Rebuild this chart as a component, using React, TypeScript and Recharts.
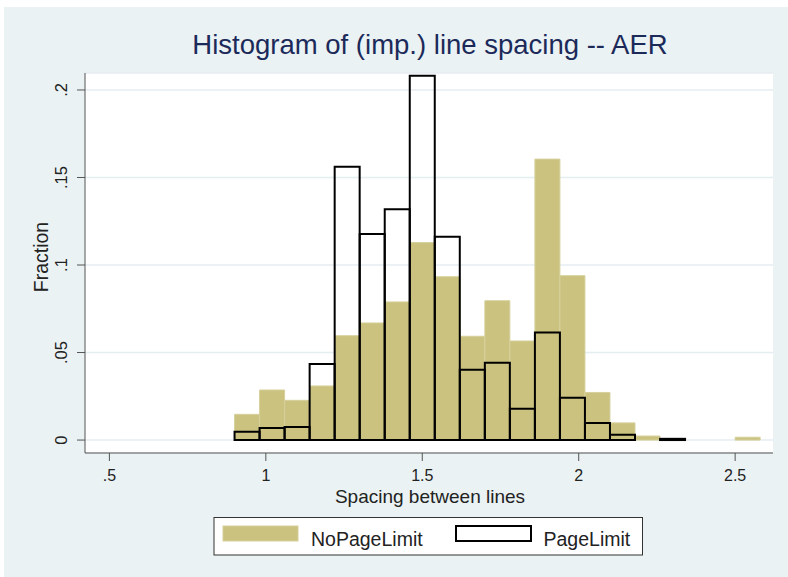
import { ComposedChart, Bar, XAxis, YAxis, CartesianGrid } from "recharts";

// bin midpoints (bin width .08, first bin starts at .9)
const binMids = [0.94, 1.02, 1.1, 1.18, 1.26, 1.34, 1.42, 1.5, 1.58, 1.66, 1.74, 1.82, 1.9, 1.98, 2.06, 2.14, 2.22, 2.3, 2.38, 2.46, 2.54];

const noPageLimit = [0.0147, 0.0286, 0.0227, 0.0309, 0.0596, 0.0669, 0.0789, 0.1128, 0.0933, 0.0593, 0.0796, 0.0566, 0.1605, 0.0939, 0.0272, 0.0098, 0.0023, 0, 0, 0, 0.0016];
const pageLimit = [0.0048, 0.0069, 0.0074, 0.0434, 0.1562, 0.1177, 0.1318, 0.2082, 0.1162, 0.0401, 0.0442, 0.0179, 0.0614, 0.0242, 0.0097, 0.003, 0, 0.0007, 0, 0, 0];

const xTicks = [0.5, 1, 1.5, 2, 2.5];
const yTicks = [0, 0.05, 0.1, 0.15, 0.2];

const data = binMids.map((bin, i) => ({ bin, noPageLimit: noPageLimit[i], pageLimit: pageLimit[i] }));

const FONT = '"Liberation Sans", Arial, Helvetica, sans-serif';
const BG = "#EAF2F3";
const KHAKI = "#CAC27E";
const KHAKI_EDGE = "#D6D09C";
const AXIS = "#555";
const TEXT = "#222";

const fmt = (v: number) => String(v).replace(/^0\./, ".");

const YTick = (props: any) => {
  const { x, y, payload } = props;
  const bx = x - 8;
  return (
    <text x={bx} y={y} transform={`rotate(-90, ${bx}, ${y})`} textAnchor="middle" fontSize={16.5} fill={TEXT} fontFamily={FONT}>
      {fmt(payload.value)}
    </text>
  );
};

export default function App() {
  return (
    <div style={{ position: "absolute", left: 4, top: 7, width: 784, height: 570, background: BG, fontFamily: FONT }}>
      <ComposedChart
        width={784}
        height={570}
        data={data}
        margin={{ top: 66, right: 15, bottom: 84, left: 21 }}
        barCategoryGap={0}
        barGap={0}
      >
        <CartesianGrid horizontal vertical={false} fill="#fff" stroke="#E4EDF0" strokeWidth={1.5} />
        <XAxis
          xAxisId="np"
          dataKey="bin"
          type="number"
          domain={[0.422, 2.621]}
          allowDataOverflow
          ticks={xTicks}
          tickFormatter={fmt}
          height={40}
          tickSize={8}
          tickMargin={9}
          stroke={AXIS}
          tick={{ fontSize: 16, fill: TEXT, fontFamily: FONT }}
        />
        <XAxis xAxisId="pl" dataKey="bin" type="number" domain={[0.422, 2.621]} allowDataOverflow hide />
        <YAxis
          type="number"
          domain={[-0.0074, 0.2097]}
          allowDataOverflow
          ticks={yTicks}
          width={60}
          tickSize={8}
          stroke={AXIS}
          tick={<YTick />}
        />
        <Bar xAxisId="np" dataKey="noPageLimit" fill={KHAKI} stroke={KHAKI_EDGE} strokeWidth={1} isAnimationActive={false} />
        <Bar xAxisId="pl" dataKey="pageLimit" fill="none" stroke="#000" strokeWidth={2} isAnimationActive={false} />
      </ComposedChart>

      <svg width={784} height={570} style={{ position: "absolute", left: 0, top: 0, pointerEvents: "none" }}>
        <text x={426} y={47} textAnchor="middle" fontSize={27.5} fill="#1c2a5a" fontFamily={FONT}>
          Histogram of (imp.) line spacing -- AER
        </text>
        <text x={44} y={250} transform="rotate(-90, 44, 250)" textAnchor="middle" fontSize={19.5} fill={TEXT} fontFamily={FONT}>
          Fraction
        </text>
        <text x={426} y={495.5} textAnchor="middle" fontSize={19} fill={TEXT} fontFamily={FONT}>
          Spacing between lines
        </text>
        <rect x={210} y={510.5} width={428.5} height={37.5} fill="#fff" stroke="#333" strokeWidth={1} />
        <rect x={219} y={519} width={75} height={15} fill={KHAKI} stroke={KHAKI_EDGE} strokeWidth={1} />
        <text x={307} y={539} fontSize={19.5} fill={TEXT} fontFamily={FONT}>NoPageLimit</text>
        <rect x={452} y={519} width={75} height={15} fill="#fff" stroke="#000" strokeWidth={2} />
        <text x={539.5} y={539} fontSize={19.5} fill={TEXT} fontFamily={FONT}>PageLimit</text>
      </svg>
    </div>
  );
}
